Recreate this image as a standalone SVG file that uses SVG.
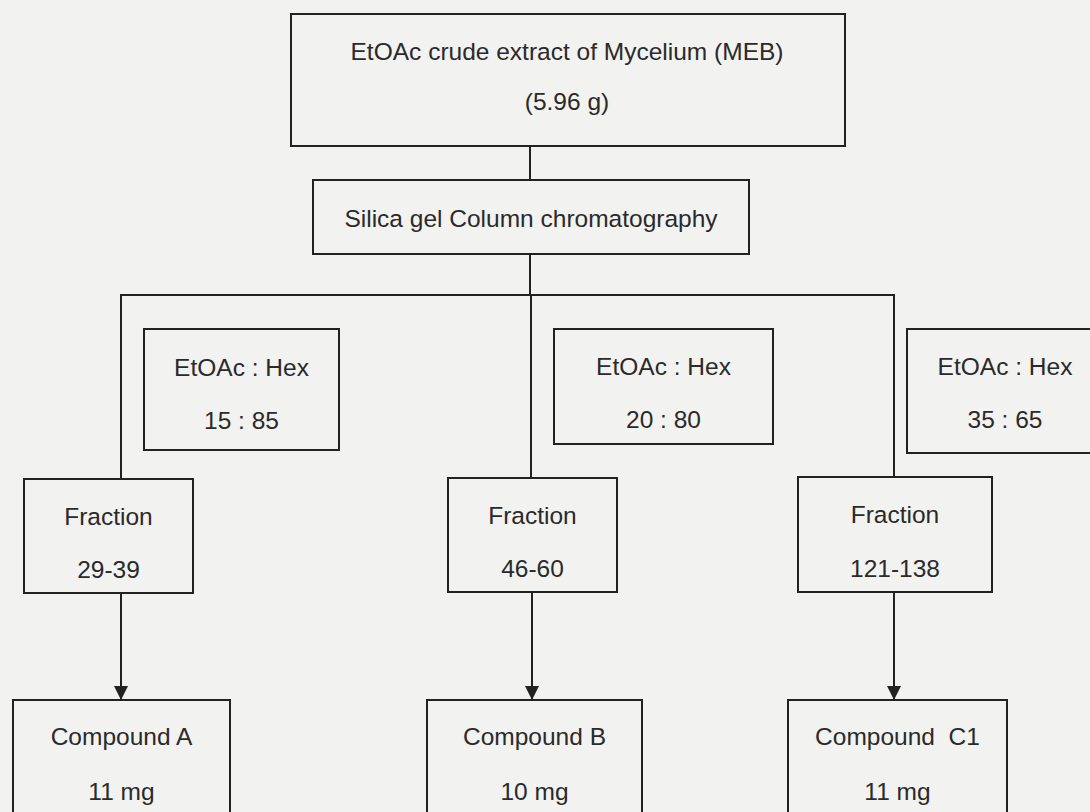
<svg xmlns="http://www.w3.org/2000/svg" width="1090" height="812" viewBox="0 0 1090 812">
<style>
.box{fill:none;stroke:#222;stroke-width:2}
.conn{fill:none;stroke:#222;stroke-width:2}
text{font-family:"Liberation Sans",Arial,sans-serif;font-size:24.5px;fill:#2a2a2a;text-anchor:middle}
</style>
<defs>
<marker id="arrow" viewBox="0 0 14 14" refX="14" refY="7" markerWidth="14" markerHeight="14" markerUnits="userSpaceOnUse" orient="auto">
<path d="M0,0 L14,7 L0,14 z" fill="#222"/>
</marker>
</defs>
<rect width="1090" height="812" fill="#f2f2f1"/>
<g id="connectors">
<line class="conn" x1="530" y1="146" x2="530" y2="180"/>
<line class="conn" x1="530" y1="254" x2="530" y2="295"/>
<polyline class="conn" points="121,479 121,295 894,295 894,477"/>
<line class="conn" x1="531" y1="295" x2="531" y2="478"/>
<line class="conn" x1="121" y1="593" x2="121" y2="700" marker-end="url(#arrow)"/>
<line class="conn" x1="532" y1="592" x2="532" y2="700" marker-end="url(#arrow)"/>
<line class="conn" x1="894" y1="592" x2="894" y2="700" marker-end="url(#arrow)"/>
</g>
<g id="node-extract">
<rect class="box" x="291" y="14" width="554" height="132"/>
<text x="567" y="60">EtOAc crude extract of Mycelium (MEB)</text>
<text x="567" y="110">(5.96 g)</text>
</g>
<g id="node-silica">
<rect class="box" x="313" y="180" width="436" height="74"/>
<text x="531" y="227">Silica gel Column chromatography</text>
</g>
<g id="node-solvent1">
<rect class="box" x="144" y="329" width="195" height="121"/>
<text x="241.5" y="376">EtOAc : Hex</text>
<text x="241.5" y="429">15 : 85</text>
</g>
<g id="node-solvent2">
<rect class="box" x="554" y="329" width="219" height="115"/>
<text x="663.5" y="375">EtOAc : Hex</text>
<text x="663.5" y="428">20 : 80</text>
</g>
<g id="node-solvent3">
<rect class="box" x="907" y="329" width="200" height="124"/>
<text x="1005" y="375">EtOAc : Hex</text>
<text x="1005" y="428">35 : 65</text>
</g>
<g id="node-fraction1">
<rect class="box" x="24" y="479" width="169" height="114"/>
<text x="108.5" y="525">Fraction</text>
<text x="108.5" y="578">29-39</text>
</g>
<g id="node-fraction2">
<rect class="box" x="448" y="478" width="169" height="114"/>
<text x="532.5" y="524">Fraction</text>
<text x="532.5" y="577">46-60</text>
</g>
<g id="node-fraction3">
<rect class="box" x="798" y="477" width="194" height="115"/>
<text x="895" y="523">Fraction</text>
<text x="895" y="577">121-138</text>
</g>
<g id="node-compoundA">
<rect class="box" x="13" y="700" width="217" height="130"/>
<text x="121.5" y="745">Compound A</text>
<text x="121.5" y="800">11 mg</text>
</g>
<g id="node-compoundB">
<rect class="box" x="427" y="700" width="215" height="130"/>
<text x="534.5" y="745">Compound B</text>
<text x="534.5" y="800">10 mg</text>
</g>
<g id="node-compoundC1">
<rect class="box" x="788" y="700" width="219" height="130"/>
<text x="897.5" y="745" xml:space="preserve">Compound  C1</text>
<text x="897.5" y="800">11 mg</text>
</g>
</svg>
